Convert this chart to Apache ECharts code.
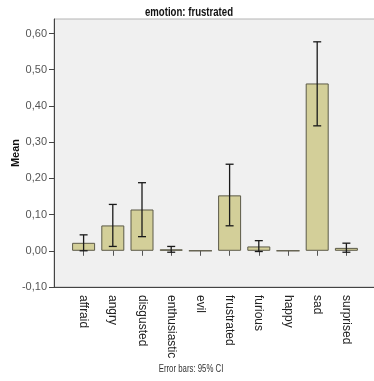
<!DOCTYPE html>
<html>
<head>
<meta charset="utf-8">
<script src="https://cdn.jsdelivr.net/npm/echarts@6/dist/echarts.min.js"></script>
<style>
  html, body { margin: 0; padding: 0; background: #fff; }
  #main { width: 374px; height: 381px; }
</style>
</head>
<body>
<div id="main"></div>
<script>
const categories = ["affraid", "angry", "disgusted", "enthusiastic", "evil", "frustrated", "furious", "happy", "sad", "surprised"];
const means = [0.022, 0.070, 0.114, 0.004, 0, 0.153, 0.012, 0, 0.462, 0.008];
const ciLow = [0.000, 0.012, 0.039, -0.004, null, 0.069, -0.002, null, 0.345, -0.004];
const ciHigh = [0.044, 0.128, 0.188, 0.012, null, 0.239, 0.028, null, 0.577, 0.021];
const yTicks = [-0.1, 0, 0.1, 0.2, 0.3, 0.4, 0.5, 0.6];

const sans = "'Liberation Sans', Arial, sans-serif";

const errData = categories
  .map((c, i) => [i, ciLow[i], ciHigh[i]])
  .filter((d) => d[1] !== null);

const chart = echarts.init(document.getElementById("main"), null, { renderer: "canvas" });

// SPSS export looks squeezed horizontally, so flat text gets scaleX
const option = {
  backgroundColor: "#ffffff",
  animation: false,
  graphic: [
    {
      type: "text",
      x: 189,
      y: 13,
      scaleX: 0.8,
      z: 10,
      style: {
        text: "emotion: frustrated",
        font: "bold 12px " + sans,
        fill: "#111",
        align: "center",
        verticalAlign: "middle",
      },
    },
    {
      type: "text",
      x: 191,
      y: 369,
      scaleX: 0.78,
      style: {
        text: "Error bars: 95% CI",
        font: "10px " + sans,
        fill: "#333",
        align: "center",
        verticalAlign: "middle",
      },
    },
  ],
  grid: [
    { left: 69, right: 13, top: 19, bottom: 94, outerBoundsMode: "none" },
    {
      left: 54, right: -4, top: 19, bottom: 94, outerBoundsMode: "none",
      show: true, backgroundColor: "#f0f0f0", borderColor: "#b4b4b4", borderWidth: 1, z: 0,
    },
  ],
  xAxis: [
    {
      type: "category",
      gridIndex: 0,
      data: categories,
      axisLine: { show: false },
      axisTick: { show: true, alignWithLabel: true, length: 5, lineStyle: { color: "#555" } },
      axisLabel: { rotate: -90, margin: 8, fontFamily: sans, fontSize: 12, color: "#222" },
    },
    {
      type: "value",
      gridIndex: 1,
      min: 0,
      max: 1,
      axisLine: { show: true, lineStyle: { color: "#444", width: 1 } },
      axisTick: { show: false },
      axisLabel: { show: false },
      splitLine: { show: false },
    },
  ],
  yAxis: [
    {
      type: "value",
      gridIndex: 0,
      min: -0.1,
      max: 0.64,
      interval: 0.1,
      offset: 15,
      name: "Mean",
      nameLocation: "middle",
      nameGap: 33,
      nameMoveOverlap: false,
      nameTextStyle: { fontFamily: sans, fontSize: 11, fontWeight: "bold", color: "#111" },
      axisLine: { show: true, lineStyle: { color: "#444" } },
      axisTick: { show: true, length: 5, customValues: yTicks, lineStyle: { color: "#444" } },
      axisLabel: {
        customValues: yTicks,
        margin: 7,
        fontFamily: sans,
        fontSize: 11,
        color: "#555",
        formatter: (v) => v.toFixed(2).replace(".", ","),
      },
      splitLine: { show: false },
    },
    { type: "value", gridIndex: 1, show: false, min: 0, max: 1 },
  ],
  series: [
    {
      type: "bar",
      xAxisIndex: 0,
      yAxisIndex: 0,
      data: means,
      barWidth: 23,
      itemStyle: { color: "#d3cf99", borderColor: "#5c5a48", borderWidth: 1 },
      z: 2,
    },
    {
      type: "custom",
      xAxisIndex: 0,
      yAxisIndex: 0,
      data: errData,
      z: 3,
      renderItem: (params, api) => {
        const x = api.value(0);
        const lo = api.coord([x, api.value(1)]);
        const hi = api.coord([x, api.value(2)]);
        const half = 4;
        const style = { stroke: "#1a1a1a", lineWidth: 1.3 };
        return {
          type: "group",
          children: [
            { type: "line", shape: { x1: hi[0], y1: hi[1], x2: lo[0], y2: lo[1] }, style },
            { type: "line", shape: { x1: hi[0] - half, y1: hi[1], x2: hi[0] + half, y2: hi[1] }, style },
            { type: "line", shape: { x1: lo[0] - half, y1: lo[1], x2: lo[0] + half, y2: lo[1] }, style },
          ],
        };
      },
    },
  ],
};

chart.setOption(option);
</script>
</body>
</html>
